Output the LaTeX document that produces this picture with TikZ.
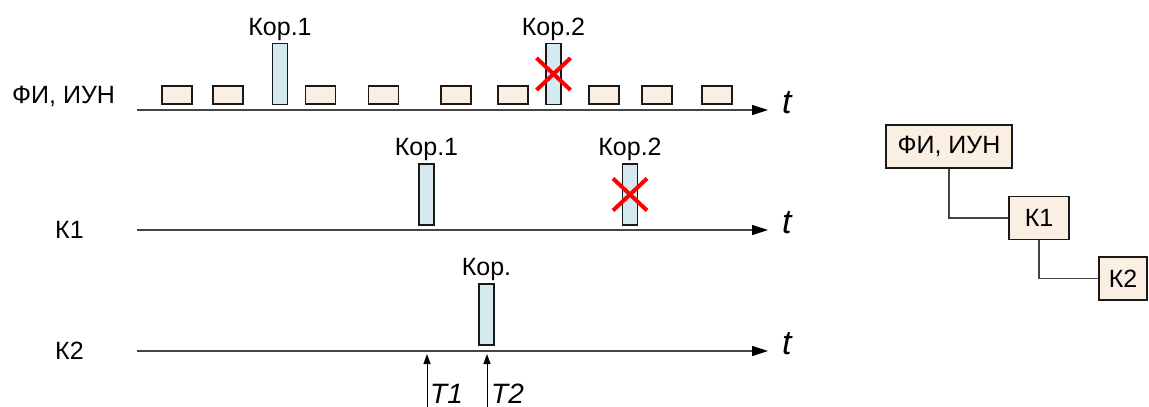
\documentclass[tikz,border=0pt]{standalone}
\usepackage{fontspec}
\setmainfont{Liberation Sans}
\usetikzlibrary{arrows.meta, positioning}
\definecolor{slotfill}{HTML}{FBEEE3}
\definecolor{pulsefill}{HTML}{D4EAF0}
\definecolor{axisgray}{HTML}{454545}

\begin{document}
\begin{tikzpicture}[x=1pt, y=-1pt,
  every node/.style={font=\fontsize{25}{30}\selectfont},
  slot/.style={draw=black!90, line width=1.3pt, fill=slotfill, minimum width=30, minimum height=18, inner sep=0},
  pulse/.style={draw=black!90, line width=1.3pt, fill=pulsefill, minimum width=15, minimum height=61, inner sep=0},
  tag/.style={inner sep=0},
  axis/.style={axisgray, line width=1.3pt, -{Triangle[length=16pt, width=10pt, black]}},
  cross/.style={red, line width=4pt},
  tsym/.style={font=\fontsize{34}{40}\selectfont\itshape, anchor=base west, inner sep=0},
  tarrow/.style={black, line width=1pt, -{Triangle[length=10pt, width=7pt]}},
  block/.style={draw=black!90, line width=1.3pt, fill=slotfill, minimum height=43, inner sep=0},
  link/.style={axisgray, line width=1.3pt}]
\useasboundingbox (0,0) rectangle (1149,407);

% axes
\coordinate (o1) at (137,110); \coordinate (e1) at (768,110);
\coordinate (o2) at (137,230); \coordinate (e2) at (768,230);
\coordinate (o3) at (137,351); \coordinate (e3) at (768,351);
\draw[axis] (o1) -- (e1);
\draw[axis] (o2) -- (e2);
\draw[axis] (o3) -- (e3);
\node[tsym] (t1) at (782,113) {t};
\node[tsym] (t2) at (782,233) {t};
\node[tsym] (t3) at (782,354) {t};

% row labels
\node[tag, anchor=base west] (r1) at (12,103) {ФИ, ИУН};
\node[tag, anchor=base west] (r2) at (55,238) {К1};
\node[tag, anchor=base west] (r3) at (55,359) {К2};

% ФИ, ИУН
\foreach \x [count=\i] in {177,228,320.5,383.5,456,513,604,657,717}
  \node[slot] (s\i) at (\x,95) {};
\node[pulse] (p1) at (280,74) {};
\node[pulse] (p2) at (553.5,74) {};
\node[tag, above=2pt of p1] (l1) {Кор.1};
\node[tag, above=2pt of p2] (l2) {Кор.2};
\draw[cross] ([shift={(-17,-16)}]p2.center) -- ([shift={(17,16)}]p2.center);
\draw[cross] ([shift={(-17,16)}]p2.center) -- ([shift={(17,-16)}]p2.center);

% K1
\node[pulse] (q1) at (426.5,194.5) {};
\node[pulse] (q2) at (630,194.5) {};
\node[tag, above=2pt of q1] (m1) {Кор.1};
\node[tag, above=2pt of q2] (m2) {Кор.2};
\draw[cross] ([shift={(-17,-16)}]q2.center) -- ([shift={(17,16)}]q2.center);
\draw[cross] ([shift={(-17,16)}]q2.center) -- ([shift={(17,-16)}]q2.center);

% K2
\node[pulse] (w1) at (486.5,314.5) {};
\node[tag, above=2pt of w1] (n1) {Кор.};
\coordinate (b1) at (427,407); \coordinate (h1) at (427,354);
\coordinate (b2) at (487,407); \coordinate (h2) at (487,354);
\draw[tarrow] (b1) -- (h1);
\draw[tarrow] (b2) -- (h2);
\node[tsym, font=\fontsize{28}{34}\selectfont\itshape] (T1) at (430,403) {T1};
\node[tsym, font=\fontsize{28}{34}\selectfont\itshape] (T2) at (491,403) {T2};

% hierarchy
\node[block, minimum width=126] (fi) at (949,146.5) {ФИ, ИУН};
\node[block, minimum width=60] (k1) at (1039,218) {К1};
\node[block, minimum width=48] (k2) at (1123,278.5) {К2};
\draw[link] (fi.south) |- (k1.west);
\draw[link] (k1.south) |- (k2.west);
\end{tikzpicture}
\end{document}
